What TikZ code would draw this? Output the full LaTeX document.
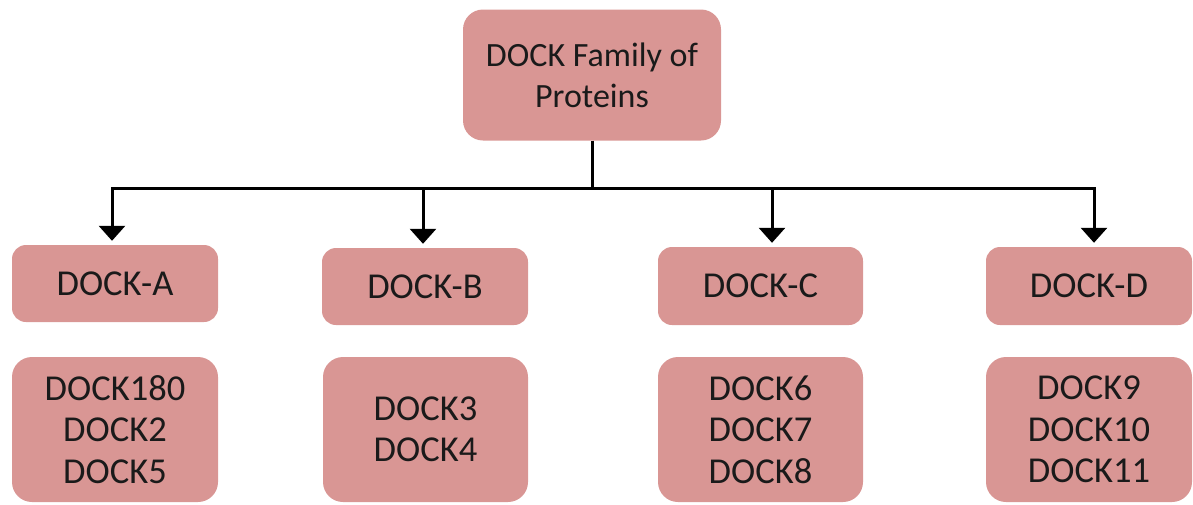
\documentclass[tikz,border=0pt]{standalone}
\usepackage{fontspec}
\setmainfont{Carlito}
\usetikzlibrary{arrows.meta}
\definecolor{boxfill}{HTML}{D99694}
\definecolor{txt}{HTML}{1A1A1A}
\tikzset{
  box/.style={draw=none, fill=boxfill, rounded corners=14pt, align=center,
    text=txt, font=\fontsize{36.5}{41.5}\selectfont, inner sep=0pt},
  conn/.style={line width=3pt, draw=black},
  arr/.style={conn, -{Triangle[width=26pt,length=15pt]}, shorten >=4pt},
}
\begin{document}
\begin{tikzpicture}[x=1pt,y=-1pt]
\useasboundingbox (0,0) rectangle (1193,504);
% top
\node[box, rounded corners=20pt, minimum width=258pt, minimum height=131pt,
  font=\fontsize{34}{41}\selectfont] (top) at (592,75) {DOCK Family of\\Proteins};
% group nodes
\node[box, minimum width=206pt, minimum height=77pt] (A) at (115,283.5) {DOCK-A};
\node[box, minimum width=206pt, minimum height=77pt] (B) at (425,286.5) {DOCK-B};
\node[box, minimum width=205pt, minimum height=78pt] (C) at (760.5,286) {DOCK-C};
\node[box, minimum width=206pt, minimum height=78pt] (D) at (1089,286) {DOCK-D};
% member nodes
\node[box, rounded corners=20pt, minimum width=206pt, minimum height=145pt] (A2) at (115,429.5) {DOCK180\\DOCK2\\DOCK5};
\node[box, rounded corners=20pt, minimum width=205pt, minimum height=145pt] (B2) at (425.5,429.5) {DOCK3\\DOCK4};
\node[box, rounded corners=20pt, minimum width=205pt, minimum height=145pt] (C2) at (760.5,429.5) {DOCK6\\DOCK7\\DOCK8};
\node[box, rounded corners=20pt, minimum width=206pt, minimum height=145pt] (D2) at (1089,429.5) {DOCK9\\DOCK10\\DOCK11};
% connectors
\coordinate (j) at (592,188);
\coordinate (xA) at (112,0);
\coordinate (xB) at (423,0);
\coordinate (xC) at (772,0);
\coordinate (xD) at (1094,0);
\draw[conn] (top.south) -- (j);
\draw[arr] (j) -| (A.north -| xA);
\draw[arr] (j) -| (B.north -| xB);
\draw[arr] (j) -| (C.north -| xC);
\draw[arr] (j) -| (D.north -| xD);
\end{tikzpicture}
\end{document}
